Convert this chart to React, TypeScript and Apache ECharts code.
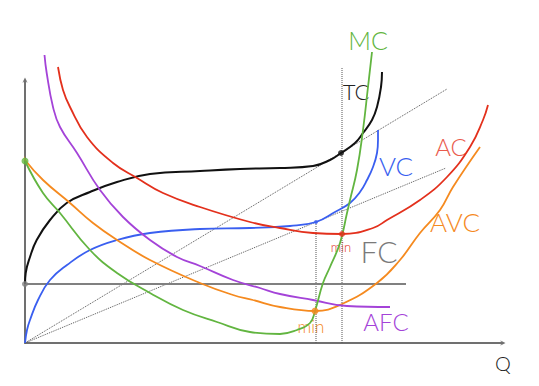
import React, { useEffect, useRef } from "react";
import * as echarts from "echarts";

// Data in chart units (origin at the axes' corner)
const TC = [[0,59],[0.7,70],[5,86],[11.7,103],[25,123],[41.7,140],[65,151],[92,161],[125,169],[175,172],[215,174],[255,175],[288,177],[305,183],[316,190],[330,200],[338,210],[347,223],[352,236],[356,256],[357,271]];
const VC = [[0,0],[2,13],[5,23],[13,43],[25,63],[42,78],[65,93],[92,103],[125,110],[175,114],[225,115],[265,117],[291,121],[310,131],[325,140],[335,151],[342,163],[348,176],[352,190],[353,203],[353,213]];
const AC = [[33,276],[38,253],[45,236],[62,206],[88,180],[112,165],[138,150],[175,136],[225,121],[255,115],[288,110],[317,109],[348,115],[362,123],[395,143],[422,166],[445,196],[458,223],[463,238]];
const AVC = [[-2.3,189],[0,183],[18,163],[45,140],[68,120],[92,103],[125,83],[175,60],[208,48],[228,43],[255,36],[290,32],[317,39],[352,60],[375,83],[395,110],[415,133],[428,156],[455,196]];
const MC = [[0,182],[18,150],[35,130],[65,93],[92,70],[125,50],[158,33],[192,21],[225,11],[255,9],[272,13],[285,20],[290,32],[298,60],[305,76],[315,100],[322,130],[325,143],[332,173],[338,213],[343,256],[347,291]];
const AFC = [[19.5,288],[21.7,270],[28,236],[35,216],[52,190],[75,153],[98,126],[125,103],[152,86],[175,77],[208,63],[235,55],[255,49],[288,43],[322,37],[365,36]];
const FC = [[0,59],[381,59]];
const RAY_TC = [[0,0],[422,254]];
const RAY_VC = [[0,0],[421,175]];
const VLINE_AC = [[317,0],[317,275]];
const VLINE_AVC = [[291,0],[291,121]];
const DOTS = [
  { value: [316,190], color: "#111111", size: 6 },
  { value: [291,121], color: "#3a5ff0", size: 4 },
  { value: [317,109], color: "#e3301c", size: 6 },
  { value: [290,32], color: "#f58a1f", size: 7 },
  { value: [0,182], color: "#62b540", size: 7 },
  { value: [0,59], color: "#808080", size: 6 },
];

const LABELS = [
  { text: "MC", x: 368, y: 40, size: 25, color: "#62b540" },
  { text: "TC", x: 356, y: 91, size: 22, color: "#222222" },
  { text: "VC", x: 396, y: 166, size: 26, color: "#3a5ff0" },
  { text: "AC", x: 451, y: 146, size: 24, color: "#ea5b4d" },
  { text: "AVC", x: 455, y: 222, size: 26, color: "#f58a1f" },
  { text: "min", x: 341, y: 247, size: 13, color: "#e3301c" },
  { text: "FC", x: 379, y: 251, size: 30, color: "#7a7a7a" },
  { text: "min", x: 311, y: 326, size: 17, color: "#f58a1f" },
  { text: "AFC", x: 386, y: 321, size: 24, color: "#a443d8" },
  { text: "Q", x: 503, y: 363, size: 20, color: "#222222" },
];

const curve = (name: string, data: number[][], color: string, width = 1.8) => ({
  name,
  type: "line",
  data,
  smooth: 0.45,
  showSymbol: false,
  clip: false,
  silent: true,
  lineStyle: { color, width },
  z: 3,
});

const dotted = (data: number[][]) => ({
  type: "line",
  data,
  showSymbol: false,
  clip: false,
  silent: true,
  lineStyle: { color: "#555", width: 1, type: "dotted" },
  z: 1,
});

const ARROW = "path://M0,10 L5,0 L10,10 L8.4,10 L5,3.2 L1.6,10 Z";

export default function App() {
  const ref = useRef<HTMLDivElement>(null);
  useEffect(() => {
    if (!ref.current) return;
    const chart = echarts.init(ref.current, null, { renderer: "svg" });
    chart.setOption({
      animation: false,
      backgroundColor: "#ffffff",
      grid: { left: 25, right: 36, top: 80, bottom: 43 },
      xAxis: {
        type: "value", min: 0, max: 478,
        axisLine: { show: true, symbol: ["none", ARROW], symbolSize: [7, 5], lineStyle: { color: "#707070", width: 2 } },
        axisTick: { show: false }, axisLabel: { show: false }, splitLine: { show: false },
      },
      yAxis: {
        type: "value", min: 0, max: 263,
        axisLine: { show: true, symbol: ["none", ARROW], symbolSize: [7, 5], lineStyle: { color: "#707070", width: 2 } },
        axisTick: { show: false }, axisLabel: { show: false }, splitLine: { show: false },
      },
      series: [
        dotted(RAY_TC),
        dotted(RAY_VC),
        dotted(VLINE_AC),
        dotted(VLINE_AVC),
        { ...curve("FC", FC, "#808080", 2), smooth: false },
        curve("TC", TC, "#111111", 2),
        curve("VC", VC, "#3a5ff0"),
        curve("AC", AC, "#e3301c"),
        curve("AVC", AVC, "#f58a1f"),
        curve("AFC", AFC, "#a443d8"),
        curve("MC", MC, "#62b540"),
        {
          type: "scatter",
          data: DOTS.map((d) => ({ value: d.value, symbolSize: d.size, itemStyle: { color: d.color } })),
          clip: false,
          silent: true,
          z: 5,
        },
      ],
      graphic: LABELS.map((l) => ({
        type: "text",
        x: l.x,
        y: l.y,
        style: {
          text: l.text,
          fill: l.color,
          font: `300 ${l.size}px Lato, "Open Sans", sans-serif`,
          textAlign: "center",
          textVerticalAlign: "middle",
        },
      })),
    });
    return () => chart.dispose();
  }, []);
  return <div ref={ref} style={{ position: "fixed", left: 0, top: 0, width: 539, height: 386 }} />;
}
